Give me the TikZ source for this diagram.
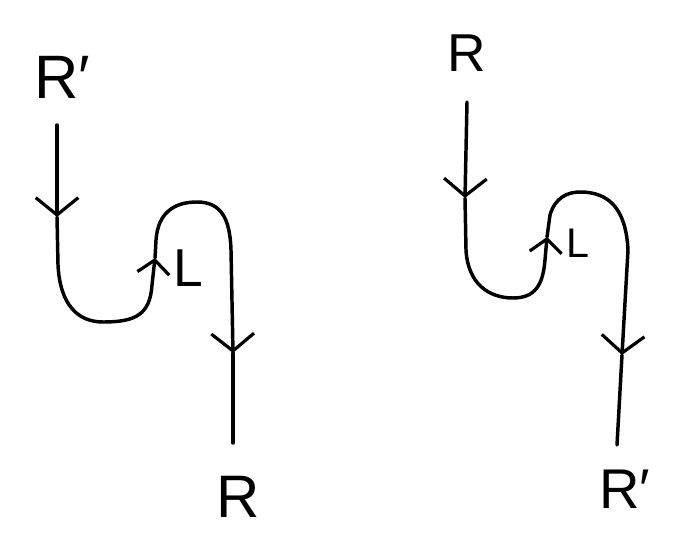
\documentclass[tikz,border=0pt]{standalone}
\usepackage{fontspec}
\setmainfont{Liberation Sans}
\usetikzlibrary{arrows.meta}
\begin{document}
\begin{tikzpicture}[x=0.75pt,y=-0.75pt,
  strand/.style={line width=2.6pt,line cap=round,line join=round},
  tipped/.style={strand,-{Straight Barb[length=13pt,width=32pt,line width=2.4pt]}},
  smalltip/.style={strand,-{Straight Barb[length=10pt,width=24pt,line width=2.4pt]}},
  lab/.style={inner sep=0pt,font=\fontsize{#1}{#1}\selectfont}]
\useasboundingbox (0,0) rectangle (685,534);
% ---- left diagram ----
\node[lab=46pt] (lRp) at (62,77) {R′};
\node[lab=45pt] (lR) at (238,497) {R};
\node[lab=40pt] (lL) at (188,268) {L};
\coordinate (a0) at (57,125);
\coordinate (a1) at (57,217);
\coordinate (a2) at (155,258);
\coordinate (a3) at (233,353);
\coordinate (a4) at (233,443);
\draw[tipped] (a0) -- (a1);
\draw[smalltip] (a1) -- (58,265) .. controls (60,305) and (78,322) .. (103,322)
   .. controls (135,322) and (150,315) .. (152,285) -- (a2);
\draw[tipped] (a2) -- (156,240) .. controls (158,212) and (175,202) .. (197,202)
   .. controls (222,202) and (230,220) .. (231,250) -- (a3);
\draw[strand] (a3) -- (a4);
% ---- right diagram ----
\node[lab=40pt] (rR) at (467,53) {R};
\node[lab=42pt] (rRp) at (625,489) {R′};
\node[lab=31pt] (rL) at (578,243) {L};
\coordinate (b0) at (467,102);
\coordinate (b1) at (465,198);
\coordinate (b2) at (547,237);
\coordinate (b3) at (622,355);
\coordinate (b4) at (617,445);
\draw[tipped] (b0) -- (b1);
\draw[smalltip] (b1) -- (466,250) .. controls (468,285) and (490,298) .. (513,298)
   .. controls (535,298) and (543,285) .. (545,260) -- (b2);
\draw[tipped] (b2) -- (550,215) .. controls (555,198) and (567,192) .. (580,192)
   .. controls (610,192) and (626,210) .. (628,250) -- (b3);
\draw[strand] (b3) -- (b4);
\end{tikzpicture}
\end{document}
